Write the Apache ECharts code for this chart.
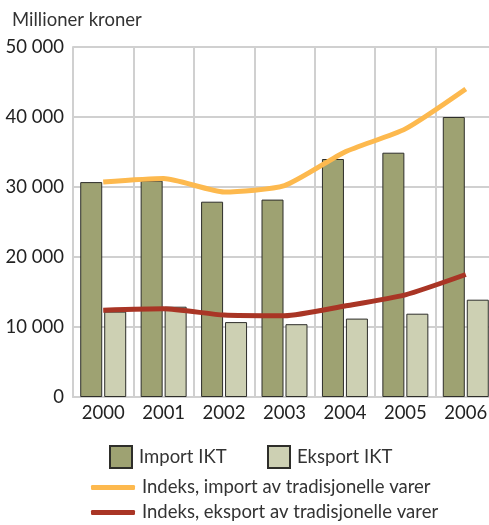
<!DOCTYPE html>
<html>
<head>
<meta charset="utf-8">
<script src="https://cdn.jsdelivr.net/npm/echarts@6/dist/echarts.min.js"></script>
<style>
  html, body { margin: 0; padding: 0; background: #fff; }
  #chart { width: 489px; height: 525px; }
</style>
</head>
<body>
<div id="chart"></div>
<script>
// data
var years = ['2000', '2001', '2002', '2003', '2004', '2005', '2006'];
var importIKT = [30700, 30900, 27900, 28200, 34000, 34900, 40000];
var eksportIKT = [12200, 12900, 10700, 10400, 11200, 11900, 13900];
var indeksImport = [30700, 31200, 29300, 30200, 35000, 38300, 44000];
var indeksEksport = [12400, 12600, 11700, 11600, 13000, 14600, 17500];
var yTicks = { min: 0, max: 50000, interval: 10000 };

var font = 'Lato';
var chart = echarts.init(document.getElementById('chart'));

function legendBox(name, left, top, w, h, icon) {
    return {
        data: [name], left: left, top: top, padding: 0,
        itemWidth: w, itemHeight: h, icon: icon, itemGap: 0,
        textStyle: { fontSize: 18.5, color: '#333', padding: [0, 0, 0, 2] }
    };
}

chart.setOption({
    animation: false,
    textStyle: { fontFamily: font },
    title: {
        text: 'Millioner kroner',
        left: 7, top: 6,
        textStyle: { fontFamily: font, fontSize: 18.5, fontWeight: 'normal', color: '#333' }
    },
    grid: { left: 73, right: -7, top: 47, bottom: 128, outerBoundsMode: 'none' },
    legend: [
        legendBox('Import IKT', 109, 445, 22, 22, 'rect'),
        legendBox('Eksport IKT', 267, 445, 22, 22, 'rect'),
        legendBox('Indeks, import av tradisjonelle varer', 91, 478, 44, 5, 'roundRect'),
        legendBox('Indeks, eksport av tradisjonelle varer', 91, 503, 44, 5, 'roundRect')
    ],
    xAxis: {
        type: 'category',
        data: years,
        boundaryGap: true,
        axisLine: { show: true, lineStyle: { color: '#d0d0d0', width: 2 } },
        axisTick: { show: false },
        splitLine: { show: true, lineStyle: { color: '#d0d0d0', width: 2 } },
        axisLabel: { fontSize: 18.5, color: '#222', margin: 7 }
    },
    yAxis: {
        type: 'value',
        min: yTicks.min, max: yTicks.max, interval: yTicks.interval,
        axisLine: { show: true, lineStyle: { color: '#d0d0d0', width: 2 } },
        axisTick: { show: false },
        splitLine: { lineStyle: { color: '#d0d0d0', width: 2 } },
        axisLabel: {
            fontSize: 18.5, color: '#222', margin: 9,
            formatter: function (v) { return v === 0 ? '0' : String(v).replace(/(\d)(?=(\d{3})+$)/g, '$1 '); }
        }
    },
    series: [
        {
            name: 'Import IKT', type: 'bar', data: importIKT,
            barWidth: 22, barGap: '9%',
            itemStyle: { color: '#9ea272', borderColor: '#2e2e2a', borderWidth: 1 }
        },
        {
            name: 'Eksport IKT', type: 'bar', data: eksportIKT,
            barWidth: 22,
            itemStyle: { color: '#cdd0b3', borderColor: '#2e2e2a', borderWidth: 1 }
        },
        {
            name: 'Indeks, import av tradisjonelle varer', type: 'line', data: indeksImport,
            smooth: 0.2, symbol: 'none',
            lineStyle: { color: '#fdb94e', width: 5 },
            itemStyle: { color: '#fdb94e' }
        },
        {
            name: 'Indeks, eksport av tradisjonelle varer', type: 'line', data: indeksEksport,
            smooth: 0.2, symbol: 'none',
            lineStyle: { color: '#a93525', width: 5 },
            itemStyle: { color: '#a93525' }
        }
    ]
});
</script>
</body>
</html>
